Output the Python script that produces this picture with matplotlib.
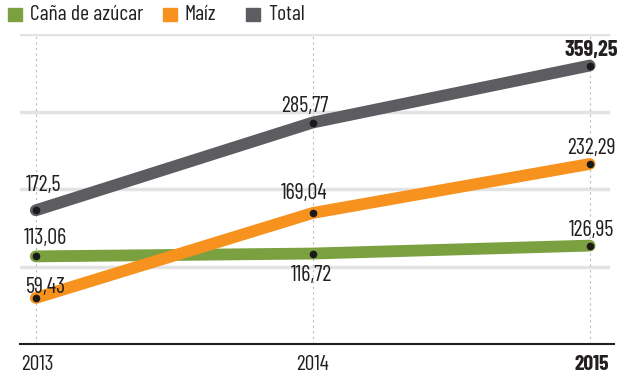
import matplotlib
matplotlib.use("Agg")
import matplotlib.pyplot as plt
from matplotlib import font_manager

years = [2013, 2014, 2015]
cana = [113.06, 116.72, 126.95]
maiz = [59.43, 169.04, 232.29]
total = [172.5, 285.77, 359.25]
series_names = ["Caña de azúcar", "Maíz", "Total"]
yticks = [100, 200, 300, 400]

# a narrow font is closer to the original; fall back if missing
names = {f.name for f in font_manager.fontManager.ttflist}
font = "DejaVu Sans"
for cand in ["Barlow Condensed", "Roboto Condensed", "Fira Sans Condensed",
             "PT Sans Narrow", "Open Sans Condensed", "Liberation Sans Narrow"]:
    if cand in names:
        font = cand
        break
plt.rcParams["font.family"] = [font, "DejaVu Sans"]

green = "#7ba03f"
orange = "#f7921e"
gray = "#5d5d61"
text_c = "#231f20"
PX = 72 / 100  # points per pixel

fig = plt.figure(figsize=(6.2, 3.75), dpi=100)
ax = fig.add_axes([20 / 620, 31 / 375, 594 / 620, 310 / 375])
ax.set_xlim(2013 - 0.057, 2015 + 0.088)
ax.set_ylim(0, 400)
ax.axis("off")

# grid
for t in yticks:
    ax.axhline(t, xmin=0, xmax=0.99, color="#e3e3e3", lw=2.5, zorder=0)
for yr in years:
    ax.plot([yr, yr], [0, 400], color="#bdbdbd", lw=0.8, ls=(0, (2, 3)), zorder=0)
ax.axhline(0, color="#231f20", lw=1.5, zorder=1, clip_on=False)

for vals, c in [(cana, green), (maiz, orange), (total, gray)]:
    ax.plot(years, vals, color=c, lw=8.5, solid_capstyle="round", zorder=3, clip_on=False)
    ax.plot(years, vals, "o", color="#1a1a1a", ms=4.5, zorder=4, clip_on=False)

def fmt(v):
    s = f"{v:.2f}".rstrip("0").rstrip(".")
    return s.replace(".", ",")

fs = 16
# value labels: (dx px, dy px, ha, va)
label_offsets = [
    (cana, [(10, 12, "center", "baseline"), (-1, -11, "center", "top"), (2, 10, "center", "baseline")]),
    (maiz, [(10, 5, "center", "baseline"), (-9, 14, "center", "baseline"), (2, 10, "center", "baseline")]),
    (total, [(8, 19, "center", "baseline"), (-8, 11, "center", "baseline"), (28, 10, "right", "baseline")]),
]
for vals, offs in label_offsets:
    for i, (yr, v) in enumerate(zip(years, vals)):
        dx, dy, ha, va = offs[i]
        bold = vals is total and i == 2
        ax.annotate(fmt(v), (yr, v), xytext=(dx * PX, dy * PX), textcoords="offset points",
                    ha=ha, va=va, fontsize=fs, color=text_c,
                    fontweight="bold" if bold else "normal", zorder=5)

# year labels
for yr in years:
    ha = "left" if yr == 2013 else ("right" if yr == 2015 else "center")
    x = yr - 0.052 if yr == 2013 else (yr + 0.07 if yr == 2015 else yr)
    ax.text(x, -14, str(yr), ha=ha, va="top", fontsize=15.5, color=text_c,
            fontweight="bold" if yr == 2015 else "normal")

# legend
legend_x = [8, 163, 246]
for name, c, lx in zip(series_names, [green, orange, gray], legend_x):
    fig.patches.append(plt.Rectangle((lx / 620, (375 - 21) / 375), 14 / 620, 13 / 375,
                                     transform=fig.transFigure, color=c))
    fig.text((lx + 22) / 620, (375 - 14) / 375, name, ha="left", va="center",
             fontsize=15.5, color=text_c)

fig.savefig("out.png", dpi=100)
